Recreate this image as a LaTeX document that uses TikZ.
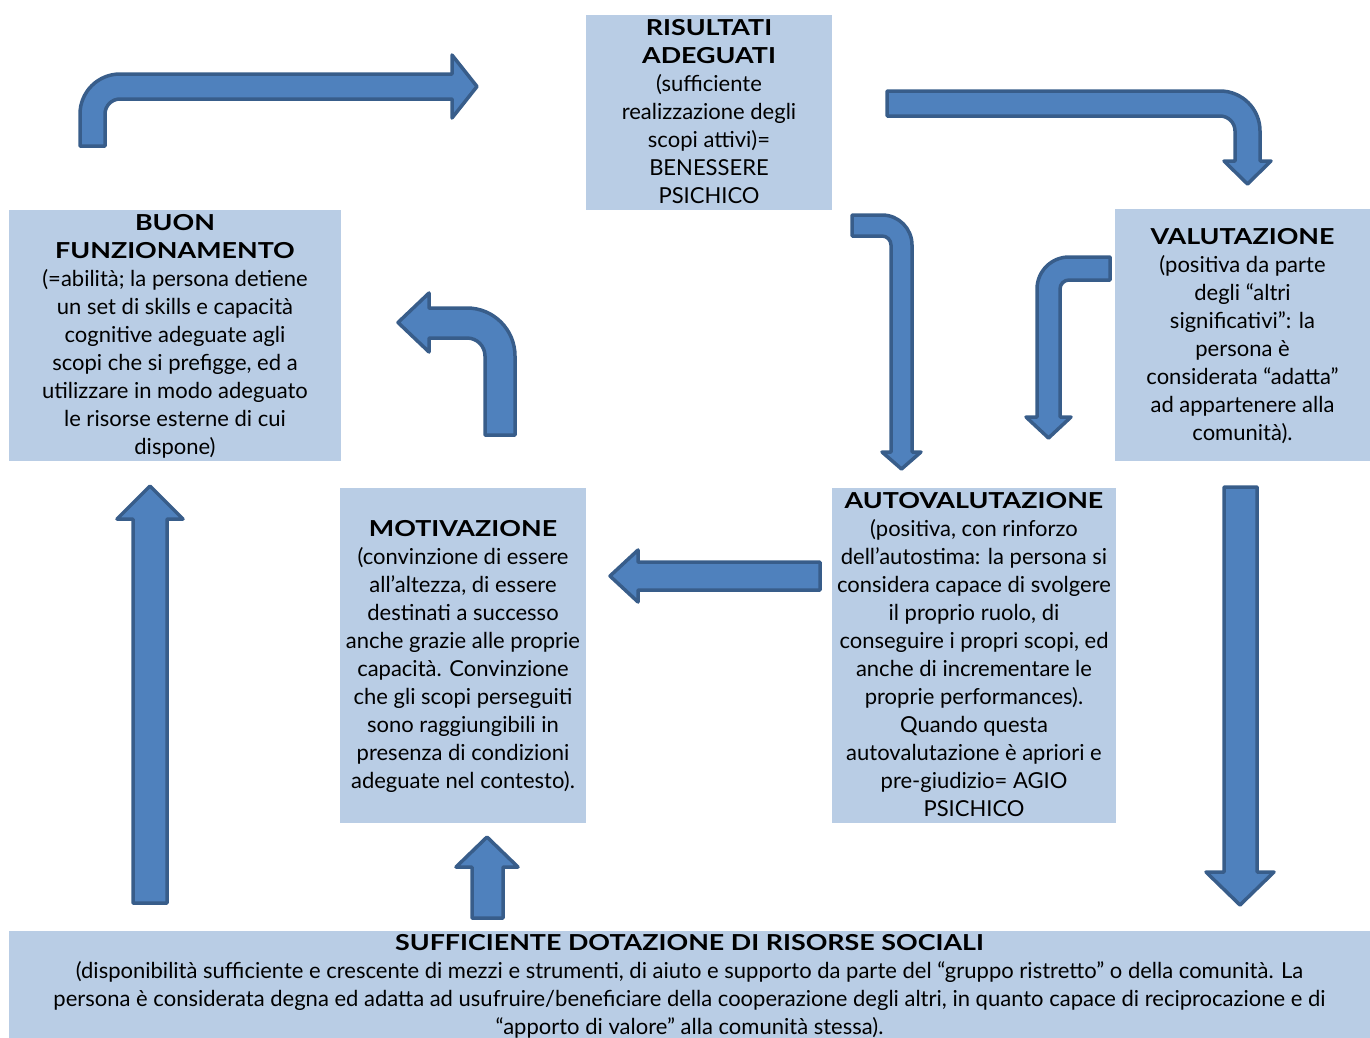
\documentclass[tikz,border=0pt]{standalone}
\usepackage{fontspec}
\setmainfont{Lato}
\newfontfamily\headfont[FakeStretch=1.22]{Lato}
\definecolor{boxfill}{HTML}{B9CDE5}
\definecolor{arrowfill}{HTML}{4F81BD}
\definecolor{arrowline}{HTML}{385D8A}
\newcommand{\hd}[1]{{\headfont\bfseries #1}}

\begin{document}
\begin{tikzpicture}[x=1pt,y=-1pt,
  panel/.style={fill=boxfill, draw=none, inner sep=0pt, outer sep=0pt},
  boxtext/.style={align=center, inner sep=0pt, font=\fontsize{22}{28}\selectfont,
    text=black, yshift=-3.5pt,
    execute at begin node=\strut, execute at end node=\strut},
  blockarrow/.style={fill=arrowfill, draw=arrowline, line width=3.5pt, line join=round}]

\useasboundingbox (0,0) rectangle (1370,1037);

% ---------- boxes ----------
\node[panel, minimum width=246pt, minimum height=195pt] (risultati) at (709,112.5) {};
\node[boxtext] (risultati-t) at (risultati.center)
  {\hd{RISULTATI}\\ \hd{ADEGUATI}\\ (sufficiente\\ realizzazione degli\\ scopi attivi)=\\ BENESSERE\\ PSICHICO};

\node[panel, minimum width=332pt, minimum height=251pt] (buon) at (175,335.5) {};
\node[boxtext] (buon-t) at (buon.center)
  {\hd{BUON}\\ \hd{FUNZIONAMENTO}\\ (=abilità; la persona detiene\\ un set di skills e capacità\\ cognitive adeguate agli\\ scopi che si prefigge, ed a\\ utilizzare in modo adeguato\\ le risorse esterne di cui\\ dispone)};

\node[panel, minimum width=255pt, minimum height=252pt] (valutazione) at (1242.5,335) {};
\node[boxtext] (valutazione-t) at (valutazione.center)
  {\hd{VALUTAZIONE}\\ (positiva da parte\\ degli “altri\\ significativi”: la\\ persona è\\ considerata “adatta”\\ ad appartenere alla\\ comunità).};

\node[panel, minimum width=246pt, minimum height=335pt] (motivazione) at (463,655.5) {};
\node[boxtext] (motivazione-t) at (motivazione.center)
  {\hd{MOTIVAZIONE}\\ (convinzione di essere\\ all’altezza, di essere\\ destinati a successo\\ anche grazie alle proprie\\ capacità. Convinzione\\ che gli scopi perseguiti\\ sono raggiungibili in\\ presenza di condizioni\\ adeguate nel contesto).};

\node[panel, minimum width=284pt, minimum height=335pt] (autovalutazione) at (974,655.5) {};
\node[boxtext] (autovalutazione-t) at (autovalutazione.center)
  {\hd{AUTOVALUTAZIONE}\\ (positiva, con rinforzo\\ dell’autostima: la persona si\\ considera capace di svolgere\\ il proprio ruolo, di\\ conseguire i propri scopi, ed\\ anche di incrementare le\\ proprie performances).\\ Quando questa\\ autovalutazione è apriori e\\ pre-giudizio= AGIO\\ PSICHICO};

\node[panel, minimum width=1361pt, minimum height=109pt] (risorse) at (689.5,985.5) {};
\node[boxtext] (risorse-t) at (risorse.center)
  {\hd{SUFFICIENTE DOTAZIONE DI RISORSE SOCIALI}\\ (disponibilità sufficiente e crescente di mezzi e strumenti, di aiuto e supporto da parte del “gruppo ristretto” o della comunità. La\\ persona è considerata degna ed adatta ad usufruire/beneficiare della cooperazione degli altri, in quanto capace di reciprocazione e di\\ “apporto di valore” alla comunità stessa).};

% ---------- block arrows ----------
% buon funzionamento -> risultati adeguati
\draw[blockarrow] (80,146) -- (80,114) arc (180:270:40) -- (452,74) -- (452,55)
  -- (477,86.5) -- (452,118) -- (452,99) -- (120,99) arc (270:180:15) -- (105,146) -- cycle;

% risultati adeguati -> valutazione
\draw[blockarrow] (887,91) -- (1220,91) arc (-90:0:40) -- (1260,161) -- (1271,161)
  -- (1247.5,184) -- (1224,161) -- (1235,161) -- (1235,131) arc (0:-90:15) -- (887,116) -- cycle;

% risultati adeguati -> autovalutazione
\draw[blockarrow] (852,215) -- (882,215) arc (-90:0:30) -- (912,452) -- (921,452)
  -- (901.5,469) -- (882,452) -- (891,452) -- (891,245) arc (0:-90:9) -- (852,236) -- cycle;

% valutazione -> autovalutazione
\draw[blockarrow] (1110,257) -- (1069,257) arc (-90:-180:32) -- (1037,417) -- (1026,417)
  -- (1048.5,438) -- (1071,417) -- (1060,417) -- (1060,289) arc (180:270:9) -- (1110,280) -- cycle;

% motivazione -> buon funzionamento
\draw[blockarrow] (515,435) -- (515,356) arc (0:-90:48) -- (429,308) -- (429,293)
  -- (398,322.5) -- (429,352) -- (429,338) -- (467,338) arc (-90:0:18) -- (485,435) -- cycle;

% autovalutazione -> motivazione
\draw[blockarrow] (820,562) -- (638,562) -- (638,550) -- (610,576) -- (638,602)
  -- (638,590) -- (820,590) -- cycle;

% risorse sociali -> buon funzionamento
\draw[blockarrow] (133,903) -- (133,519) -- (117,519) -- (150,486) -- (183,519)
  -- (167,519) -- (167,903) -- cycle;

% risorse sociali -> motivazione
\draw[blockarrow] (472,918) -- (472,867) -- (456,867) -- (487,837) -- (518,867)
  -- (503,867) -- (503,918) -- cycle;

% valutazione -> risorse sociali
\draw[blockarrow] (1224,487) -- (1224,872) -- (1206,872) -- (1240,905) -- (1274,872)
  -- (1257,872) -- (1257,487) -- cycle;

\end{tikzpicture}
\end{document}
